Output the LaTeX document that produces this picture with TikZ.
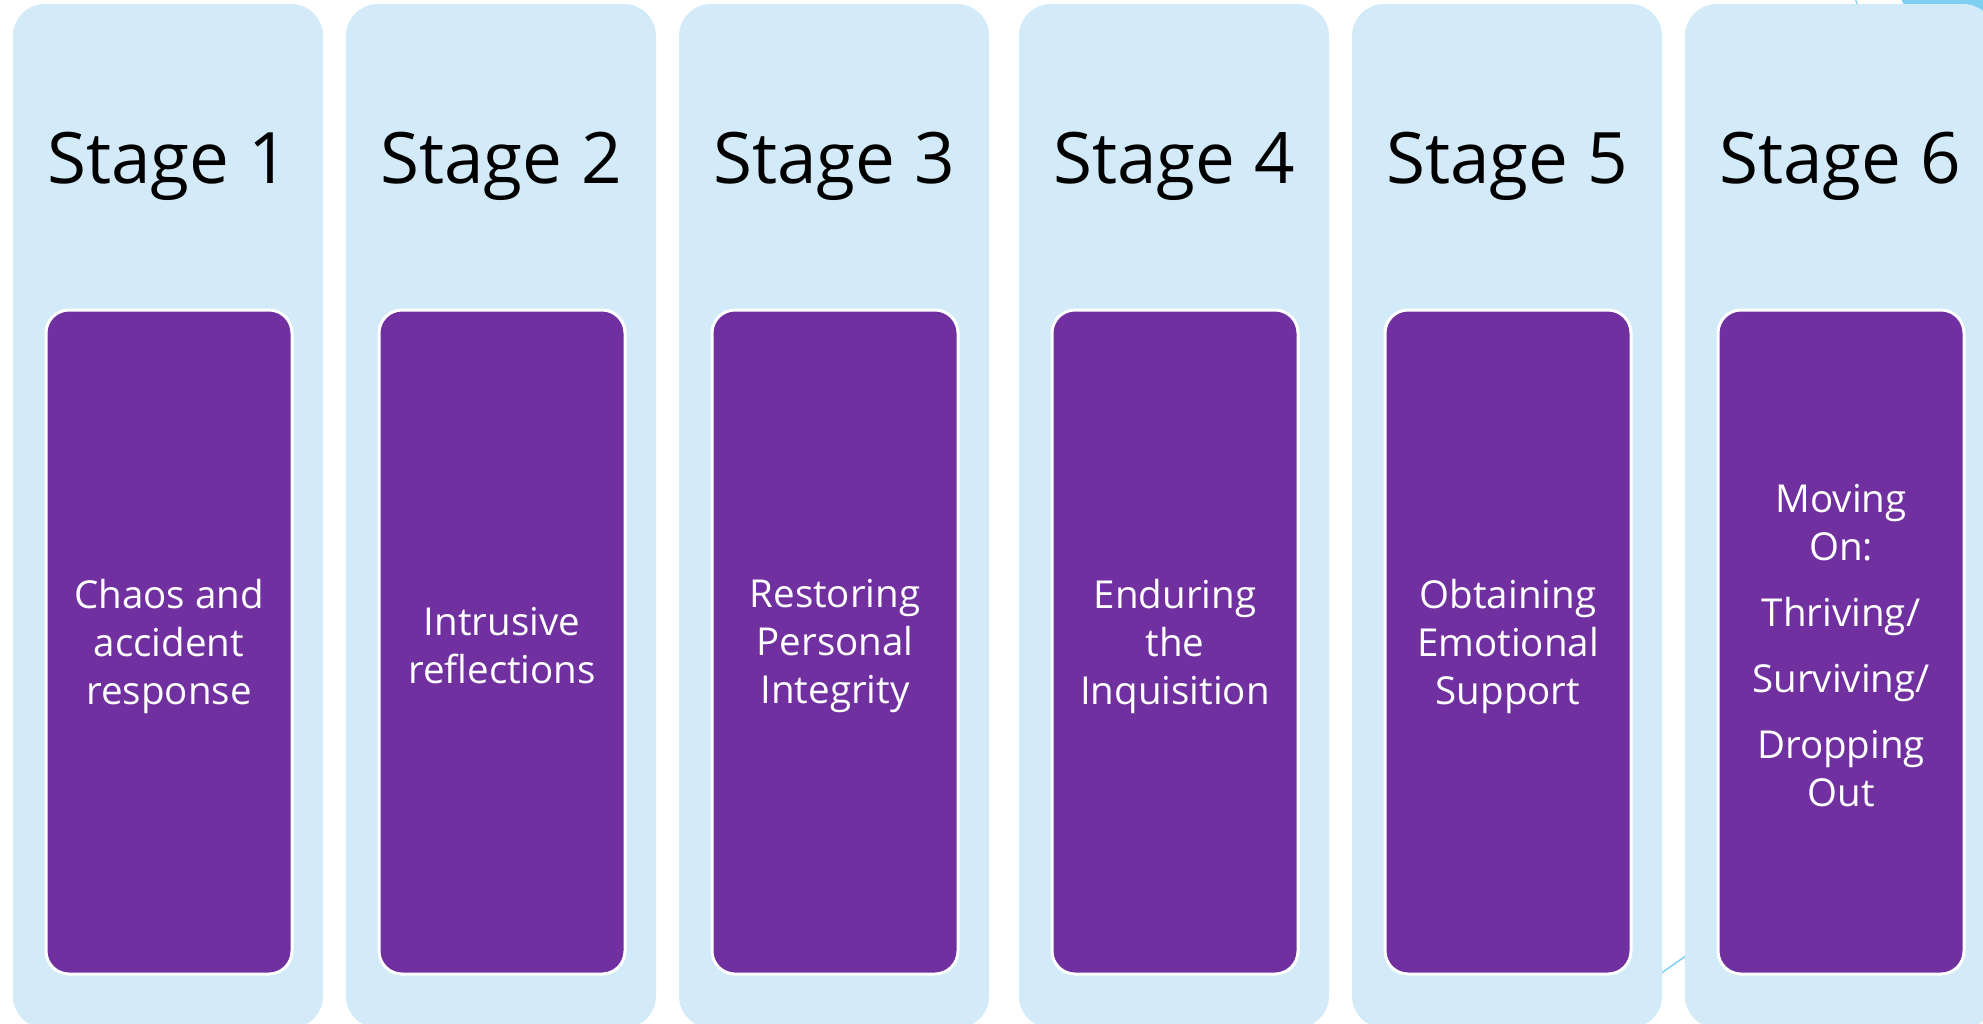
\documentclass[tikz,border=0pt]{standalone}
\usepackage{fontspec}
\setmainfont{Open Sans}
\newfontfamily\stagefont{Open Sans}
\definecolor{panelblue}{HTML}{D3EBF8}
\definecolor{stagepurple}{HTML}{7030A0}
\definecolor{accentblue}{HTML}{7DD0F0}
\tikzset{
  panel/.style={fill=panelblue, draw=none, rounded corners=32pt},
  card/.style={fill=stagepurple, draw=white, line width=3pt, rounded corners=23pt},
  stagelabel/.style={font=\stagefont\fontsize{71}{80}\selectfont, text=black, inner sep=0pt, anchor=base},
  cardtext/.style={font=\fontsize{38.5}{48}\selectfont, text=white, align=center, inner sep=0pt},
}
\begin{document}
\begin{tikzpicture}[x=1pt, y=-1pt]
  \useasboundingbox (0,0) rectangle (1983,1023);
  \clip (0,0) rectangle (1983,1023);

  % background ornaments behind the panels
  \fill[accentblue] (1901,-2) .. controls (1904,6) .. (1916,14) -- (1990,14) -- (1990,-2) -- cycle;
  \draw[accentblue, line width=1.2pt] (1855,-2) -- (1860,12);
  \draw[accentblue, line width=1.5pt] (1630,995) -- (1700,946);
  \draw[accentblue, line width=1.5pt] (1970,1030) -- (1990,1012);

  % panels: left edge, stage number, card text
  \foreach \x/\n/\t in {
      13/1/{Chaos and\\accident\\response},
      346/2/{Intrusive\\reflections},
      679/3/{Restoring\\Personal\\Integrity},
      1019/4/{Enduring\\the\\Inquisition},
      1352/5/{Obtaining\\Emotional\\Support},
      1685/6/{Moving\\On:\\[18pt]Thriving/\\[18pt]Surviving/\\[18pt]Dropping\\Out}} {
    \fill[panel] (\x,4) rectangle ++(310,1024);
    \draw[card] (\x+33,310) rectangle ++(246,664);
    \node[stagelabel] (stage\n) at (\x+155,183) {Stage \n};
    \node[cardtext] (card\n) at (\x+156,646) {\t};
  }
\end{tikzpicture}
\end{document}
